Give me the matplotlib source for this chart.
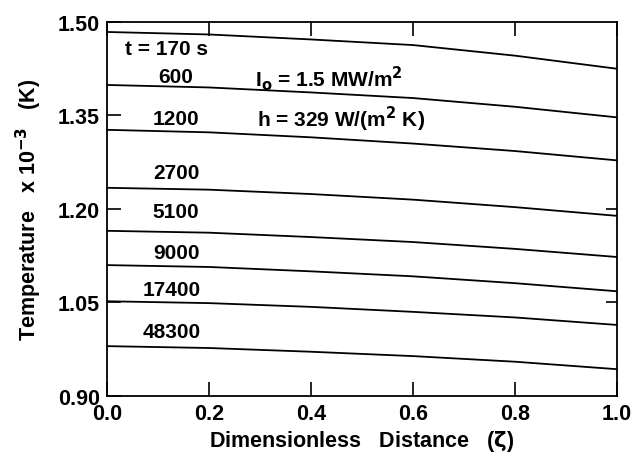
import numpy as np
import matplotlib
import matplotlib.pyplot as plt
matplotlib.use("agg")

plt.rcParams["font.family"] = ["Liberation Sans", "DejaVu Sans"]
plt.rcParams["font.weight"] = "bold"
plt.rcParams["mathtext.default"] = "bf"

zeta = [0.0, 0.2, 0.4, 0.6, 0.8, 1.0]
times = ["t = 170 s", "600", "1200", "2700", "5100", "9000", "17400", "48300"]
temps = [
    [1.484, 1.480, 1.472, 1.463, 1.446, 1.425],
    [1.399, 1.395, 1.387, 1.378, 1.364, 1.347],
    [1.327, 1.323, 1.315, 1.305, 1.293, 1.278],
    [1.234, 1.231, 1.224, 1.215, 1.203, 1.189],
    [1.165, 1.162, 1.155, 1.147, 1.136, 1.123],
    [1.110, 1.107, 1.100, 1.092, 1.081, 1.068],
    [1.052, 1.049, 1.043, 1.035, 1.026, 1.014],
    [0.980, 0.977, 0.971, 0.964, 0.955, 0.943],
]
label_x = [0.035, 0.10, 0.09, 0.09, 0.09, 0.09, 0.07, 0.07]
label_y = [1.458, 1.412, 1.345, 1.259, 1.196, 1.131, 1.071, 1.003]
right_ticks = [1.05, 1.20]

fig = plt.figure(figsize=(6.35, 4.6), dpi=100)
ax = fig.add_axes([107 / 635, 63 / 460, 510 / 635, 374 / 460])

for vals in temps:
    ax.plot(zeta, vals, color="black", lw=1.3)

for lab, lx, ly in zip(times, label_x, label_y):
    ax.text(lx, ly, lab, fontsize=15, fontweight="bold", ha="left", va="center")

ax.text(0.29, 1.411, r"I$_\mathbf{o}$ = 1.5 MW/m$^\mathbf{2}$", fontsize=15,
        fontweight="bold", ha="left", va="center")
ax.text(0.295, 1.345, r"h = 329 W/(m$^\mathbf{2}$ K)", fontsize=15,
        fontweight="bold", ha="left", va="center")

ax.set_xlim(0, 1.0)
ax.set_ylim(0.90, 1.50)
ax.set_xticks([0.0, 0.2, 0.4, 0.6, 0.8, 1.0])
ax.set_yticks([0.90, 1.05, 1.20, 1.35, 1.50])
ax.set_xticklabels(["0.0", "0.2", "0.4", "0.6", "0.8", "1.0"])
ax.set_yticklabels(["0.90", "1.05", "1.20", "1.35", "1.50"])
ax.tick_params(direction="in", length=10, width=1.2, labelsize=15.5, top=True,
               right=False, pad=5)
for s in ax.spines.values():
    s.set_linewidth(1.3)

# short ticks on the right edge only at two levels (as minor ticks)
ax.yaxis.remove_overlapping_locs = False
ax.set_yticks(right_ticks, minor=True)
ax.tick_params(axis="y", which="minor", direction="in", length=8, width=1.2,
               left=False, right=True, labelleft=False, labelright=False)

ax.set_xlabel(r"Dimensionless   Distance   ($\zeta$)", fontsize=15.5, fontweight="bold",
              labelpad=3)
ax.set_ylabel(r"Temperature   x 10$^{\mathbf{-3}}$   (K)", fontsize=15.5,
              fontweight="bold", labelpad=10)

fig.savefig("out.png", dpi=100)
